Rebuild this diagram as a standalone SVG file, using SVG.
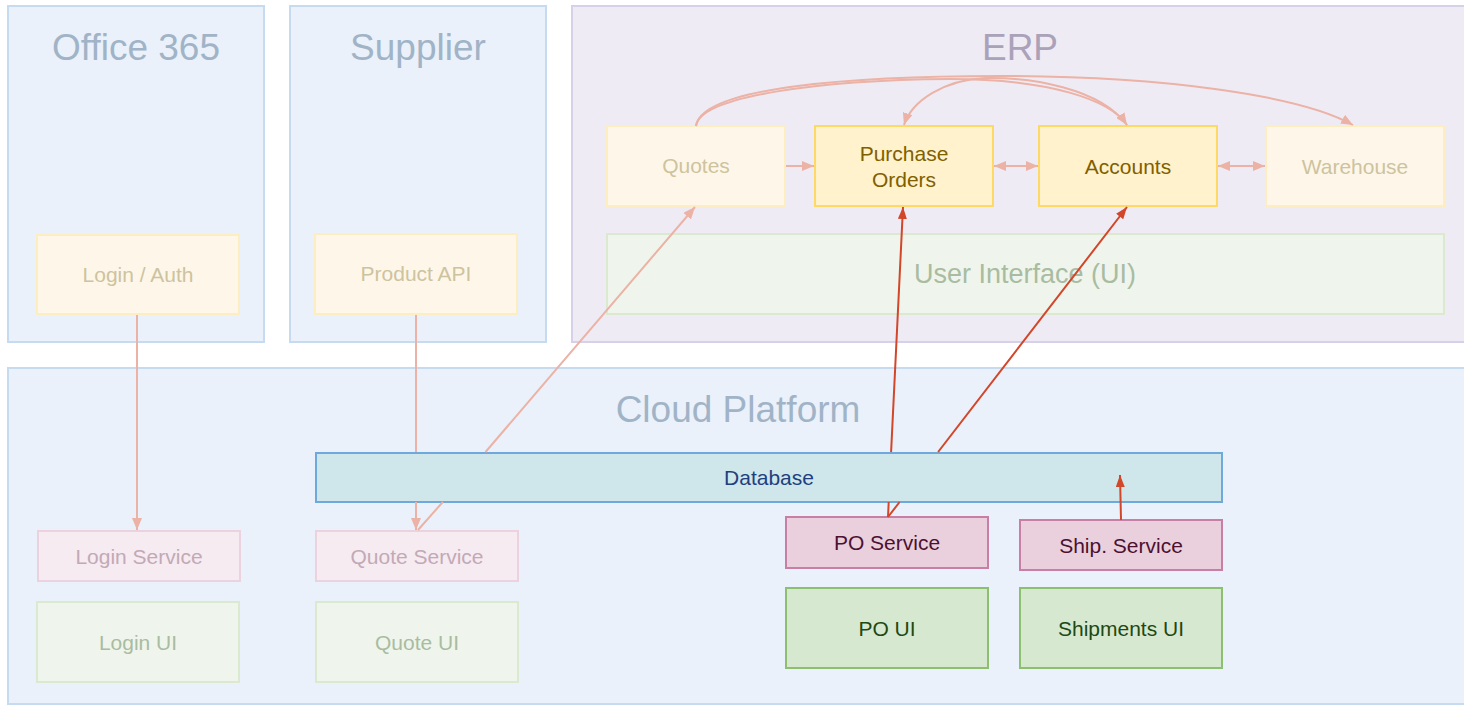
<svg xmlns="http://www.w3.org/2000/svg" width="1464" height="705" viewBox="0 0 1464 705">
  <style>
    text { font-family: "Liberation Sans", Arial, sans-serif; text-anchor: middle; }
    .zone { fill: #eaf1fa; stroke: #c6dbf0; stroke-width: 2; }
    .zone-erp { fill: #efebf5; stroke: #d6d0e8; stroke-width: 2; }
    .title { font-size: 37px; fill: #a1b4c7; }
    .title-erp { font-size: 37px; fill: #aaa2b9; }
    .lbl { font-size: 21px; }
    .y-dim rect { fill: #fef7e9; stroke: #fdeec2; stroke-width: 2; }
    .y-dim text { fill: #cdc39e; }
    .y-on rect { fill: #fff2cc; stroke: #ffd966; stroke-width: 2; }
    .y-on text { fill: #7f6000; }
    .p-dim rect { fill: #f6ebf1; stroke: #ecd2de; stroke-width: 2; }
    .p-dim text { fill: #c3a9b6; }
    .p-on rect { fill: #ead0dd; stroke: #c77fa5; stroke-width: 2; }
    .p-on text { fill: #4d1030; }
    .g-dim rect { fill: #eff5ec; stroke: #dbeacf; stroke-width: 2; }
    .g-dim text { fill: #a9bca1; }
    .g-on rect { fill: #d7e8d1; stroke: #8cc070; stroke-width: 2; }
    .g-on text { fill: #1d4a12; }
    .db rect { fill: #cfe6ea; stroke: #6fa8dc; stroke-width: 2; }
    .db text { fill: #1f3f7f; }
    .soft { fill: none; stroke: #ebb2a5; stroke-width: 2; }
    .hard { fill: none; stroke: #d2462a; stroke-width: 2; }
  </style>
  <defs>
    <marker id="soft-head" viewBox="0 0 12 10" refX="12" refY="5" markerWidth="12" markerHeight="10" orient="auto-start-reverse" markerUnits="userSpaceOnUse">
      <path d="M0,0 L12,5 L0,10 Z" fill="#ebb2a5"/>
    </marker>
    <marker id="hard-head" viewBox="0 0 12 9" refX="12" refY="4.5" markerWidth="12" markerHeight="9" orient="auto-start-reverse" markerUnits="userSpaceOnUse">
      <path d="M0,0 L12,4.5 L0,9 Z" fill="#d2462a"/>
    </marker>
  </defs>

  <!-- Zones -->
  <g id="office365">
    <rect class="zone" x="8" y="6" width="256" height="336"/>
    <text class="title" x="136" y="60">Office 365</text>
  </g>
  <g id="supplier">
    <rect class="zone" x="290" y="6" width="256" height="336"/>
    <text class="title" x="418" y="60">Supplier</text>
  </g>
  <g id="erp">
    <rect class="zone-erp" x="572" y="6" width="898" height="336"/>
    <text class="title-erp" x="1020" y="60">ERP</text>
  </g>
  <g id="cloud-platform">
    <rect class="zone" x="8" y="368" width="1462" height="336"/>
    <text class="title" x="738" y="422">Cloud Platform</text>
  </g>

  <!-- Office 365 / Supplier -->
  <g id="login-auth" class="y-dim">
    <rect x="37" y="235" width="202" height="79"/>
    <text class="lbl" x="138" y="282">Login / Auth</text>
  </g>
  <g id="product-api" class="y-dim">
    <rect x="315" y="234" width="202" height="80"/>
    <text class="lbl" x="416" y="281">Product API</text>
  </g>

  <!-- ERP -->
  <g id="quotes" class="y-dim">
    <rect x="607" y="126" width="178" height="80"/>
    <text class="lbl" x="696" y="173">Quotes</text>
  </g>
  <g id="purchase-orders" class="y-on">
    <rect x="815" y="126" width="178" height="80"/>
    <text class="lbl" x="904" y="161">Purchase</text>
    <text class="lbl" x="904" y="187">Orders</text>
  </g>
  <g id="accounts" class="y-on">
    <rect x="1039" y="126" width="178" height="80"/>
    <text class="lbl" x="1128" y="174">Accounts</text>
  </g>
  <g id="warehouse" class="y-dim">
    <rect x="1266" y="126" width="178" height="80"/>
    <text class="lbl" x="1355" y="174">Warehouse</text>
  </g>
  <g id="user-interface" class="g-dim">
    <rect x="607" y="234" width="837" height="80"/>
    <text x="1025" y="283" font-size="27">User Interface (UI)</text>
  </g>

  <!-- Cloud Platform -->
  <g id="database" class="db">
    <rect x="316" y="453" width="906" height="49"/>
    <text class="lbl" x="769" y="485">Database</text>
  </g>
  <g id="login-service" class="p-dim">
    <rect x="38" y="531" width="202" height="50"/>
    <text class="lbl" x="139" y="564">Login Service</text>
  </g>
  <g id="quote-service" class="p-dim">
    <rect x="316" y="531" width="202" height="50"/>
    <text class="lbl" x="417" y="564">Quote Service</text>
  </g>
  <g id="login-ui" class="g-dim">
    <rect x="37" y="602" width="202" height="80"/>
    <text class="lbl" x="138" y="650">Login UI</text>
  </g>
  <g id="quote-ui" class="g-dim">
    <rect x="316" y="602" width="202" height="80"/>
    <text class="lbl" x="417" y="650">Quote UI</text>
  </g>
  <g id="po-service" class="p-on">
    <rect x="786" y="517" width="202" height="51"/>
    <text class="lbl" x="887" y="550">PO Service</text>
  </g>
  <g id="ship-service" class="p-on">
    <rect x="1020" y="520" width="202" height="50"/>
    <text class="lbl" x="1121" y="553">Ship. Service</text>
  </g>
  <g id="po-ui" class="g-on">
    <rect x="786" y="588" width="202" height="80"/>
    <text class="lbl" x="887" y="636">PO UI</text>
  </g>
  <g id="shipments-ui" class="g-on">
    <rect x="1020" y="588" width="202" height="80"/>
    <text class="lbl" x="1121" y="636">Shipments UI</text>
  </g>

  <!-- Connectors (segments crossing the database bar are interrupted) -->
  <g id="connectors">
    <path class="soft" d="M137,315 L137,530" marker-end="url(#soft-head)"/>
    <path class="soft" d="M416,315 L416,452 M416,502 L416,530" marker-end="url(#soft-head)"/>
    <path class="soft" d="M418,530 L442.8,502 M485.5,452 L695,207" marker-end="url(#soft-head)"/>
    <path class="soft" d="M786,166 L814,166" marker-end="url(#soft-head)"/>
    <path class="soft" d="M994,166 L1038,166" marker-start="url(#soft-head)" marker-end="url(#soft-head)"/>
    <path class="soft" d="M1218,166 L1265,166" marker-start="url(#soft-head)" marker-end="url(#soft-head)"/>
    <path class="soft" d="M696,126 C700,96 820,80 950,79 C1050,79 1110,100 1127,125" marker-end="url(#soft-head)"/>
    <path class="soft" d="M696,126 C702,86 860,76 1000,76 C1160,76 1300,95 1353,125" marker-end="url(#soft-head)"/>
    <path class="soft" d="M1127,125 C1100,88 1030,77 985,78 C945,80 912,100 904,125" marker-end="url(#soft-head)"/>
    <path class="hard" d="M888,517 L888.7,502 M891.1,452 L903,207" marker-end="url(#hard-head)"/>
    <path class="hard" d="M888,517 L899.6,502 M938.1,452 L1127,207" marker-end="url(#hard-head)"/>
    <path class="hard" d="M1121,520 L1120,475" marker-end="url(#hard-head)"/>
  </g>
</svg>
